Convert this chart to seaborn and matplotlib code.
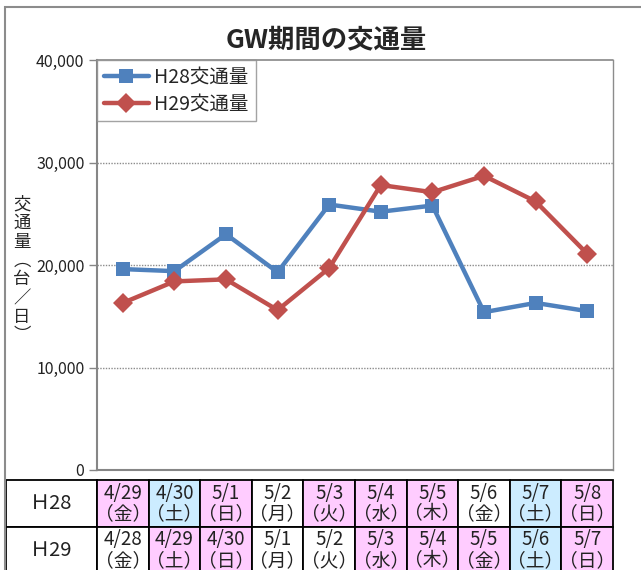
import matplotlib
matplotlib.use("Agg")
import matplotlib.pyplot as plt
import numpy as np
import pandas as pd
import seaborn as sns
from matplotlib.patches import Rectangle

# --- Daten ---
H28_DATES = ["4/29", "4/30", "5/1", "5/2", "5/3", "5/4", "5/5", "5/6", "5/7", "5/8"]
H28_DOW = ["金", "土", "日", "月", "火", "水", "木", "金", "土", "日"]
H28_FILL = ["pink", "blue", "pink", "white", "pink", "pink", "pink", "white", "blue", "pink"]
H28_VALUES = [19600, 19400, 23000, 19300, 25900, 25200, 25800, 15400, 16300, 15500]

H29_DATES = ["4/28", "4/29", "4/30", "5/1", "5/2", "5/3", "5/4", "5/5", "5/6", "5/7"]
H29_DOW = ["金", "土", "日", "月", "火", "水", "木", "金", "土", "日"]
H29_FILL = ["white", "pink", "pink", "white", "white", "pink", "pink", "pink", "blue", "pink"]
H29_VALUES = [16300, 18400, 18600, 15600, 19700, 27800, 27100, 28700, 26200, 21100]

SERIES = ["H28交通量", "H29交通量"]
ROW_LABELS = ["Ｈ28", "Ｈ29"]
Y_TICKS = [0, 10000, 20000, 30000, 40000]

COLORS = {"H28交通量": "#4F81BD", "H29交通量": "#C0504D"}
MARKERS = {"H28交通量": "s", "H29交通量": "D"}
FILLS = {"pink": "#FFCCFF", "blue": "#CCECFF", "white": "#FFFFFF"}

sns.set_theme(style="white")
plt.rcParams["font.family"] = ["Noto Sans CJK JP", "DejaVu Sans"]

W, H = 641, 570
fig = plt.figure(figsize=(W / 100, H / 100), dpi=100)
# Plotbereich in Pixeln: x 97..613, y 60..470
ax = fig.add_axes([97 / W, (H - 470) / H, 516 / W, 410 / H])

idx = np.arange(len(H28_VALUES))
df = pd.DataFrame({
    "pos": np.concatenate([idx, idx]),
    "value": H28_VALUES + H29_VALUES,
    "series": [SERIES[0]] * len(idx) + [SERIES[1]] * len(idx),
})

sns.lineplot(data=df, x="pos", y="value", hue="series", style="series",
             palette=COLORS, markers=MARKERS, dashes=False, linewidth=3.2,
             markersize=10, markeredgewidth=0, ax=ax)

ax.set_xlim(-0.5, len(idx) - 0.5)
ax.set_ylim(0, 40000)
ax.set_yticks(Y_TICKS)
ax.set_yticklabels([f"{v:,}" for v in Y_TICKS], fontsize=11.5, color="#222222")
ax.set_xticks([])
ax.set_xlabel("")
ax.set_ylabel("")
ax.tick_params(axis="y", direction="out", length=6, width=1, color="#868686",
               pad=3, left=True)
for v in Y_TICKS[1:-1]:
    ax.axhline(v, color="#8c8c8c", linestyle=(0, (1, 1)), linewidth=1, zorder=0)

for side in ["left", "bottom"]:
    ax.spines[side].set_color("#868686")
    ax.spines[side].set_linewidth(1.5)
ax.spines["top"].set_color("#8c8c8c")
ax.spines["top"].set_linestyle((0, (1, 1)))
ax.spines["right"].set_color("#8c8c8c")
ax.spines["right"].set_linewidth(1)

leg = ax.legend(loc="upper left", bbox_to_anchor=(0, 1), borderaxespad=0,
                fontsize=14, frameon=True, fancybox=False, edgecolor="#8c8c8c",
                handlelength=2.3, handletextpad=0.3, borderpad=0.35,
                labelspacing=0.3)
leg.get_frame().set_linewidth(1)

# Titel und vertikale y-Achsenbeschriftung
fig.text(326 / W, 1 - 40 / H, "GW期間の交通量", ha="center", va="center",
         fontsize=19, fontweight="bold")
fig.text(22 / W, 1 - 270 / H, "\n".join("交通量︵台／日︶"), ha="center",
         va="center", fontsize=12.5, linespacing=1.05)

# Aeusserer Diagrammrahmen
fig.add_artist(Rectangle((5 / W, -0.05), 1.1, 1 - 7 / H + 0.05,
                         transform=fig.transFigure, fill=False,
                         edgecolor="#8c8c8c", linewidth=1.5))

# Tabelle mit Datum / Wochentag unter dem Plot
cell_text = [
    [ROW_LABELS[0]] + [f"{d}\n（{w}）" for d, w in zip(H28_DATES, H28_DOW)],
    [ROW_LABELS[1]] + [f"{d}\n（{w}）" for d, w in zip(H29_DATES, H29_DOW)],
]
cell_colors = [
    ["#FFFFFF"] + [FILLS[f] for f in H28_FILL],
    ["#FFFFFF"] + [FILLS[f] for f in H29_FILL],
]
x0 = (6 - 97) / 516
tab = ax.table(cellText=cell_text, cellColours=cell_colors, cellLoc="center",
               colWidths=[91] + [51.6] * len(idx),
               bbox=[x0, -(10 + 94) / 410, (613 - 6) / 516, 94 / 410])
tab.auto_set_font_size(False)
tab.set_fontsize(13.5)
for (r, c), cell in tab.get_celld().items():
    cell.set_edgecolor("black")
    cell.set_linewidth(1.3)
    cell.PAD = 0.02
    cell.get_text().set_linespacing(1.0)
    cell.get_text().set_color("#222222")
    if c == 0:
        cell.get_text().set_fontsize(14.5)

fig.savefig("out.png", dpi=100)
